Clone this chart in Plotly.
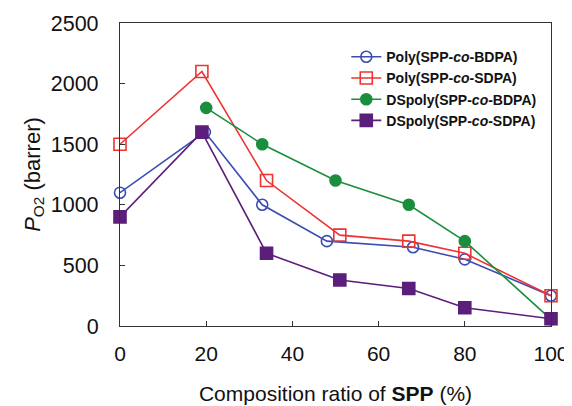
import plotly.graph_objects as go

series_names = ["Poly(SPP-<i>co</i>-BDPA)", "Poly(SPP-<i>co</i>-SDPA)",
                "DSpoly(SPP-<i>co</i>-BDPA)", "DSpoly(SPP-<i>co</i>-SDPA)"]

x_poly_bdpa = [0, 19.7, 33, 48, 68, 80, 100]
y_poly_bdpa = [1100, 1600, 1000, 700, 650, 550, 250]

x_poly_sdpa = [0, 19, 34, 51, 67, 80, 100]
y_poly_sdpa = [1500, 2100, 1200, 750, 700, 600, 250]

x_ds_bdpa = [20, 33, 50, 67, 80, 100]
y_ds_bdpa = [1800, 1500, 1200, 1000, 700, 55]

x_ds_sdpa = [0, 19, 34, 51, 67, 80, 100]
y_ds_sdpa = [900, 1600, 600, 380, 310, 150, 60]

colors = ["#3B4DB0", "#EE3333", "#1B8E3E", "#5B1E7A"]
symbols = ["circle-open", "square-open", "circle", "square"]
sizes = [11, 12, 11, 12]

xs = [x_poly_bdpa, x_poly_sdpa, x_ds_bdpa, x_ds_sdpa]
ys = [y_poly_bdpa, y_poly_sdpa, y_ds_bdpa, y_ds_sdpa]

fig = go.Figure()
for i, (name, x, y, c, s, sz) in enumerate(zip(series_names, xs, ys, colors, symbols, sizes)):
    fig.add_trace(go.Scatter(
        x=x, y=y, name=name, mode="lines+markers", legendgroup=f"g{i}",
        line=dict(color=c, width=1.6),
        marker=dict(symbol=s, size=sz, color=c, line=dict(color=c, width=1.6)),
        cliponaxis=False,
    ))

font_family = "Liberation Sans, Arial, sans-serif"
fig.update_layout(
    width=564, height=398,
    margin=dict(l=112, r=21, t=15, b=80, autoexpand=False),
    plot_bgcolor="white", paper_bgcolor="white",
    font=dict(family=font_family, color="#111111"),
    showlegend=True,
    legend=dict(x=0.525, y=0.94, xanchor="left", yanchor="top",
                bgcolor="rgba(0,0,0,0)",
                font=dict(size=14, family=font_family, weight="bold"),
                itemwidth=30, tracegroupgap=0),
    xaxis=dict(range=[0, 100], tickvals=[0, 20, 40, 60, 80, 100],
               ticks="inside", ticklen=5, tickcolor="#333", showline=True,
               linecolor="#333", linewidth=1.2, mirror=True, showgrid=False,
               zeroline=False, tickfont=dict(size=21), automargin=False,
               ticklabelstandoff=9,
               title=dict(text="Composition ratio of <b>SPP</b> (%)",
                          font=dict(size=21), standoff=22)),
    yaxis=dict(range=[0, 2500], tickvals=[0, 500, 1000, 1500, 2000, 2500],
               ticks="inside", ticklen=5, tickcolor="#333", showline=True,
               linecolor="#333", linewidth=1.2, mirror=True, showgrid=False,
               zeroline=False, tickfont=dict(size=21.5), automargin=False,
               ticklabelstandoff=16,
               title=dict(text="<i>P</i><sub>O2</sub> (barrer)",
                          font=dict(size=22), standoff=4)),
)
fig.write_html("out.html")
